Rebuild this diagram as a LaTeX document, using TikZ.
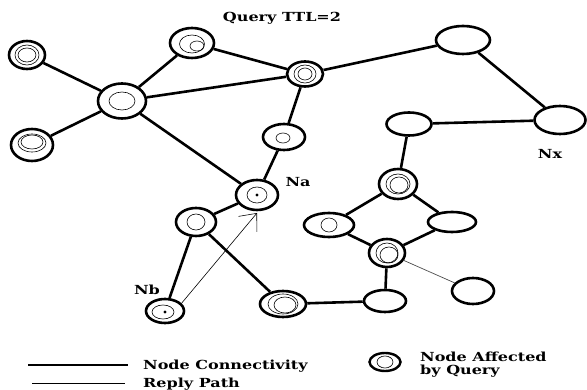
\documentclass[tikz,border=0pt]{standalone}
\usepackage{fontspec}
\setmainfont{DejaVu Serif}
\newfontfamily\lblfont[FakeStretch=1.28]{DejaVu Serif}
\usetikzlibrary{shapes.geometric,arrows.meta}
\tikzset{
  nd/.style={ellipse, draw, line width=2.6pt, inner sep=0pt, minimum width=#1},
  conn/.style={line width=2.6pt},
  ring/.style={line width=0.6pt},
  thinconn/.style={line width=0.7pt, draw=black!70},
  reply/.style={line width=0.6pt, -{Straight Barb[length=14pt,width=24pt,line width=0.6pt]}},
  lbl/.style={font=\lblfont\bfseries\fontsize{12.5}{14}\selectfont, inner sep=0pt},
}
\begin{document}
\begin{tikzpicture}[x=1pt,y=-1pt]
\useasboundingbox (0,0) rectangle (587,390);
% nodes
\node[nd=36pt, minimum height=28pt] (A) at (27,55) {};
\node[nd=42pt, minimum height=32pt] (B) at (32,145) {};
\node[nd=48pt, minimum height=35pt] (C) at (122,101) {};
\node[nd=44pt, minimum height=30pt] (D) at (192,43) {};
\node[nd=36pt, minimum height=25pt] (E) at (305,74) {};
\node[nd=42pt, minimum height=26pt] (F) at (284,137) {};
\node[nd=42pt, minimum height=30pt] (Na) at (257,195) {};
\node[nd=40pt, minimum height=28pt] (P) at (196,222) {};
\node[nd=38pt, minimum height=24pt] (Nb) at (165,311) {};
\node[nd=46pt, minimum height=26pt] (O) at (283,304) {};
\node[nd=54pt, minimum height=28pt] (G) at (463,40) {};
\node[nd=51pt, minimum height=28pt] (Nx) at (560,120) {};
\node[nd=45pt, minimum height=23pt] (H) at (409,124) {};
\node[nd=38pt, minimum height=30pt] (I) at (398,184) {};
\node[nd=50pt, minimum height=24pt] (J) at (329,225) {};
\node[nd=48pt, minimum height=20pt] (K) at (452,222) {};
\node[nd=36pt, minimum height=28pt] (L) at (387,253) {};
\node[nd=42pt, minimum height=26pt] (M) at (473,291) {};
\node[nd=42pt, minimum height=22pt] (N) at (385,301) {};
\node[nd=31pt, minimum height=18pt, line width=2.4pt] (Lg) at (385,362) {};
% inner rings
\draw[ring] (A.center) ellipse [x radius=12pt, y radius=10pt];
\draw[ring] (A.center) ellipse [x radius=9pt, y radius=7pt];
\draw[ring] ([shift={(0pt,2pt)}]B.center) ellipse [x radius=14pt, y radius=9pt];
\draw[ring] ([shift={(0pt,3pt)}]B.center) ellipse [x radius=11pt, y radius=7pt];
\draw[ring] (C.center) ellipse [x radius=13pt, y radius=9pt];
\draw[ring] ([shift={(0pt,-1pt)}]D.center) ellipse [x radius=12.5pt, y radius=9pt];
\draw[ring] ([shift={(5pt,-3pt)}]D.center) ellipse [x radius=7pt, y radius=5pt];
\draw[ring] (E.center) ellipse [x radius=11pt, y radius=9pt];
\draw[ring] (E.center) ellipse [x radius=7pt, y radius=6pt];
\draw[ring] ([shift={(-1pt,-1pt)}]F.center) ellipse [x radius=7pt, y radius=5pt];
\draw[ring] (Na.center) ellipse [x radius=10pt, y radius=8pt];
\fill (Na.center) circle [radius=1.6pt];
\draw[ring] (P.center) ellipse [x radius=9pt, y radius=8pt];
\draw[ring] ([shift={(-2pt,-1pt)}]Nb.center) ellipse [x radius=11pt, y radius=7pt];
\fill ([shift={(0pt,-1pt)}]Nb.center) circle [radius=1.6pt];
\draw[ring] (O.center) ellipse [x radius=15pt, y radius=10pt];
\draw[ring] ([shift={(2pt,-1pt)}]O.center) ellipse [x radius=11pt, y radius=8pt];
\draw[ring] (I.center) ellipse [x radius=12pt, y radius=10pt];
\draw[ring] ([shift={(1pt,-1pt)}]I.center) ellipse [x radius=9pt, y radius=8pt];
\draw[ring] (J.center) ellipse [x radius=8pt, y radius=7pt];
\draw[ring] (L.center) ellipse [x radius=11pt, y radius=10pt];
\draw[ring] ([shift={(2pt,-2pt)}]L.center) ellipse [x radius=9pt, y radius=8pt];
\draw[ring] (Lg.center) ellipse [x radius=8pt, y radius=6pt];
% connectivity
\draw[conn] (A) -- (C);
\draw[conn] (B) -- (C);
\draw[conn] (C) -- (D);
\draw[conn] (C) -- (E);
\draw[conn] (C) -- (Na);
\draw[conn] (D) -- (E);
\draw[conn] (E) -- (F);
\draw[conn] (E) -- (G);
\draw[conn] (F) -- (Na);
\draw[conn] (G) -- (Nx);
\draw[conn] (Nx) -- (H);
\draw[conn] (H) -- (I);
\draw[conn] (I) -- (J);
\draw[conn] (I) -- (K);
\draw[conn] (J) -- (L);
\draw[conn] (K) -- (L);
\draw[conn] (L) -- (N);
\draw[conn] (N) -- (O);
\draw[conn] (O) -- (P);
\draw[conn] (P) -- (Na);
\draw[conn] (P) -- (Nb);
\draw[thinconn] (L) -- (M);
% reply path
\coordinate (tip) at (257,213);
\draw[reply] (Nb.25) -- (tip);
% labels
\node[lbl] (tq) at (282,18) {Query TTL=2};
\node[lbl] (tna) at (298,182) {Na};
\node[lbl] (tnb) at (147,290) {Nb};
\node[lbl] (tnx) at (550,154) {Nx};
% legend
\coordinate (l1a) at (28,365);
\coordinate (l1b) at (128,365);
\coordinate (l2a) at (32,383);
\coordinate (l2b) at (125,383);
\draw[conn] (l1a) -- (l1b);
\draw[line width=0.7pt] (l2a) -- (l2b);
\node[lbl, anchor=base west] (t1) at (143,370) {Node Connectivity};
\node[lbl, anchor=base west] (t2) at (143,388) {Reply Path};
\node[lbl, anchor=base west] (t3) at (420,362) {Node Affected};
\node[lbl, anchor=base west] (t4) at (420,374) {by Query};
\end{tikzpicture}
\end{document}
